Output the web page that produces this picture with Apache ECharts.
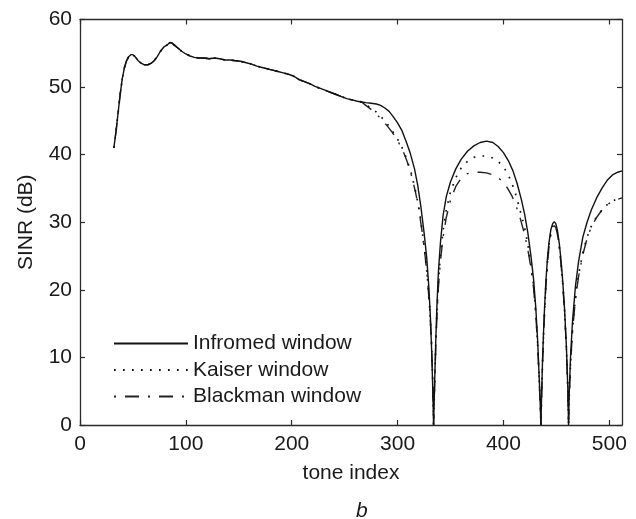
<!DOCTYPE html>
<html>
<head>
<meta charset="utf-8">
<script src="https://cdn.jsdelivr.net/npm/echarts@6/dist/echarts.min.js"></script>
<style>
html,body{margin:0;padding:0;background:#fff;}
#chart{width:636px;height:519px;}
</style>
</head>
<body>
<div id="chart"></div>
<script>
// ---- data ----
const xTicks = [0, 100, 200, 300, 400, 500];
const yTicks = [0, 10, 20, 30, 40, 50, 60];
const seriesNames = ['Infromed window', 'Kaiser window', 'Blackman window'];

// shared part (all three curves overlap up to ~tone 266)
const commonHead = [[32,41.0],[34,43.4],[36,46.2],[38,49.0],[40,51.3],[42,52.9],[44,53.9],[46,54.5],[48,54.8],[50,54.8],[52,54.5],[55,53.9],[58,53.5],[61,53.3],[64,53.3],[67,53.5],[70,53.9],[73,54.5],[76,55.3],[79,55.9],[82,56.2],[85,56.6],[87,56.5],[90,56.1],[93,55.7],[96,55.3],[100,54.9],[104,54.6],[108,54.4],[112,54.3],[117,54.3],[122,54.2],[127,54.3],[132,54.2],[137,54.0],[142,54.0],[147,53.9],[152,53.8],[157,53.6],[162,53.4],[167,53.1],[172,52.9],[177,52.7],[182,52.5],[187,52.3],[192,52.1],[197,51.9],[202,51.6],[207,51.1],[212,50.8],[217,50.5],[222,50.1],[227,49.8],[232,49.5],[237,49.2],[242,48.9],[247,48.6],[252,48.3],[257,48.1],[262,47.9],[266,47.8]];

const informedTail = [[270,47.7],[275,47.6],[280,47.5],[284,47.3],[288,46.9],[292,46.4],[296,45.6],[300,44.7],[304,43.6],[308,42.0],[312,40.2],[316,37.9],[319,35.5],[322,32.3],[325,28.5],[327.5,24.8],[329.5,20.5],[331,16],[332.3,10.5],[333.3,5],[334,0],[334.8,5],[335.8,11],[337,17],[338.5,22.5],[340.5,27.0],[343,31.0],[346,33.8],[350,36.0],[355,37.9],[360,39.3],[366,40.5],[372,41.3],[378,41.8],[384,42.0],[390,41.8],[395,41.2],[400,40.3],[405,39.0],[409,37.6],[413,35.7],[417,33.3],[420,31.2],[423,28.5],[426,25.0],[428.5,21.5],[430.5,17.5],[432.3,12.5],[433.8,7],[435,2],[435.4,0],[436,4],[437,10],[438.3,15.5],[440,21],[441.5,24.5],[443,27],[444.8,28.9],[446.5,29.8],[448,30.1],[449.5,29.8],[451,28.8],[452.8,26.8],[454.5,24.2],[456,21.3],[457.8,17],[459.5,11.5],[460.8,5.5],[461.5,0],[462.2,5],[463.5,10.5],[465.3,15.5],[468,20.5],[471,24.2],[475,27.8],[479,30.0],[483,31.8],[488,33.6],[493,35.0],[498,36.2],[503,37.0],[508,37.4],[512,37.6]];

const kaiserTail = [[270,47.4],[275,46.9],[280,46.3],[285,45.5],[290,44.6],[295,43.5],[300,42.3],[305,40.8],[309,39.2],[313,37.2],[317,34.6],[320,32.2],[323,29.0],[326,25.2],[328.5,21.3],[330.5,17],[332,12.5],[333.2,6.5],[334,0],[334.8,5],[335.8,10.5],[337,16],[338.5,21],[340.5,25.3],[343,28.8],[346,31.8],[350,34.5],[355,36.6],[360,38.0],[366,39.0],[372,39.6],[378,39.8],[384,39.8],[390,39.5],[395,39.0],[400,38.2],[404,37.2],[408,35.8],[412,33.9],[416,31.6],[420,29.2],[423,26.8],[426,23.8],[428.5,20.6],[430.5,16.8],[432.3,12],[433.8,6.8],[435,2],[435.4,0],[436,4],[437,9.5],[438.3,15],[440,20.5],[441.5,24],[443,26.6],[444.8,28.5],[446.5,29.4],[448,29.7],[449.5,29.4],[451,28.4],[452.8,26.4],[454.5,23.8],[456,21],[457.8,16.8],[459.5,11.3],[460.8,5.5],[461.5,0],[462.2,4.5],[463.5,9.5],[465.3,14.2],[468,18.8],[471,22.3],[475,25.5],[479,27.8],[483,29.4],[488,30.8],[493,31.8],[498,32.6],[503,33.1],[508,33.5],[512,33.7]];

const blackmanTail = [[270,47.3],[275,46.7],[280,46.0],[285,45.2],[290,44.3],[295,43.3],[300,42.1],[305,40.6],[309,39.0],[313,37.0],[317,34.4],[320,32.0],[323,28.8],[326,25.0],[328.5,21.1],[330.5,16.8],[332,12.3],[333.2,6.4],[334,0],[334.8,4.8],[335.8,10],[337,15.3],[338.5,20.2],[340.5,24.3],[343,27.8],[346,30.7],[350,33.3],[355,35.3],[360,36.5],[366,37.2],[372,37.4],[378,37.4],[384,37.3],[390,37.0],[395,36.6],[400,35.9],[404,35.0],[408,33.9],[412,32.4],[416,30.5],[420,28.2],[423,26.0],[426,23.2],[428.5,20.2],[430.5,16.5],[432.3,11.8],[433.8,6.6],[435,2],[435.4,0],[436,4],[437,9.3],[438.3,14.8],[440,20.2],[441.5,23.7],[443,26.3],[444.8,28.2],[446.5,29.2],[448,29.5],[449.5,29.2],[451,28.2],[452.8,26.2],[454.5,23.6],[456,20.8],[457.8,16.6],[459.5,11.2],[460.8,5.4],[461.5,0],[462.2,4.4],[463.5,9.3],[465.3,14.0],[468,18.6],[471,22.0],[475,25.2],[479,27.6],[483,29.3],[488,30.7],[493,31.8],[498,32.6],[503,33.1],[508,33.4],[512,33.6]];

const informed = commonHead.concat(informedTail);
const kaiser = commonHead.concat(kaiserTail);
const blackman = commonHead.concat(blackmanTail);

// ---- chart ----
const FONT = '"Liberation Sans", Arial, Helvetica, sans-serif';
const FS = 21;
const TXT = '#1a1a1a';
const AX = '#2a2a2a';
const chart = echarts.init(document.getElementById('chart'), null, {renderer: 'canvas'});

const baseX = {
  type: 'value', min: xTicks[0], max: 512, interval: 100,
  splitLine: {show: false},
  axisLine: {show: true, onZero: false, lineStyle: {color: AX, width: 1.3}},
  axisTick: {show: true, inside: true, length: 5, lineStyle: {color: AX, width: 1.2},
    customValues: xTicks}
};
const baseY = {
  type: 'value', min: yTicks[0], max: yTicks[yTicks.length - 1], interval: 10,
  splitLine: {show: false},
  axisLine: {show: true, onZero: false, lineStyle: {color: AX, width: 1.3}},
  axisTick: {show: true, inside: true, length: 5, lineStyle: {color: AX, width: 1.2}}
};

chart.setOption({
  animation: false,
  backgroundColor: '#fff',
  grid: {left: 80, right: 14, top: 19.5, bottom: 94, containLabel: false},
  xAxis: [
    Object.assign({}, baseX, {
      position: 'bottom',
      name: 'tone index', nameLocation: 'middle', nameGap: 38,
      nameTextStyle: {fontFamily: FONT, fontSize: FS, color: TXT},
      axisLabel: {show: true, margin: 9, fontFamily: FONT, fontSize: FS, color: TXT,
        customValues: xTicks}
    }),
    Object.assign({}, baseX, {position: 'top', axisLabel: {show: false}})
  ],
  yAxis: [
    Object.assign({}, baseY, {
      position: 'left',
      name: 'SINR (dB)', nameLocation: 'middle', nameGap: 43,
      nameTextStyle: {fontFamily: FONT, fontSize: FS, color: TXT},
      axisLabel: {show: true, margin: 8, fontFamily: FONT, fontSize: FS, color: TXT}
    }),
    Object.assign({}, baseY, {position: 'right', axisLabel: {show: false}})
  ],
  legend: {
    orient: 'vertical', left: 108, top: 328,
    itemWidth: 74, itemHeight: 14, itemGap: 5.5,
    itemStyle: {opacity: 0},
    textStyle: {fontFamily: FONT, fontSize: FS, color: TXT},
    data: seriesNames
  },
  graphic: [{
    type: 'text', left: 356, top: 501,
    style: {text: 'b', font: 'italic 21px ' + FONT, fill: TXT}
  }],
  series: [
    {name: seriesNames[0], type: 'line', data: informed, symbol: 'none', xAxisIndex: 0, yAxisIndex: 0,
      lineStyle: {color: '#111', width: 1.4, type: 'solid'}, itemStyle: {color: '#111'}, z: 4},
    {name: seriesNames[1], type: 'line', data: kaiser, symbol: 'none', xAxisIndex: 0, yAxisIndex: 0,
      lineStyle: {color: '#111', width: 1.7, type: [1.7, 7.3]}, itemStyle: {color: '#111'}, z: 3},
    {name: seriesNames[2], type: 'line', data: blackman, symbol: 'none', xAxisIndex: 0, yAxisIndex: 0,
      lineStyle: {color: '#222', width: 1.4, type: [14, 9, 2, 9], dashOffset: 23}, itemStyle: {color: '#222'}, z: 2}
  ]
});
</script>
</body>
</html>
